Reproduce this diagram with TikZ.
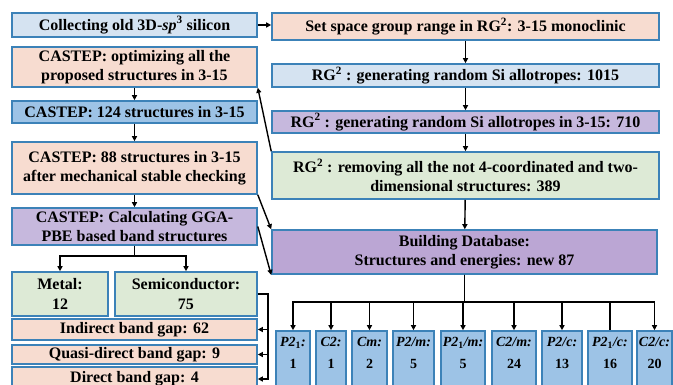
\documentclass[tikz,border=0pt]{standalone}
\usepackage{fontspec}
\setmainfont{Liberation Serif}
\usetikzlibrary{arrows.meta}
\definecolor{bord}{HTML}{3C82B8}
\definecolor{lblue}{HTML}{D5E3F1}
\definecolor{peach}{HTML}{F7DCD0}
\definecolor{mblue}{HTML}{9DC3E6}
\definecolor{purpA}{HTML}{C6B8DD}
\definecolor{purpB}{HTML}{BBA6D4}
\definecolor{lgreen}{HTML}{DDEAD6}
\begin{document}
\begin{tikzpicture}[x=1pt,y=-1pt,
  box/.style={draw=bord, line width=1.6pt, inner sep=0pt, align=center,
    font=\fontsize{16}{19.5}\selectfont\bfseries},
  sbox/.style={draw=bord, line width=1.6pt, fill=mblue, minimum height=56pt, inner sep=0pt},
  stext/.style={anchor=north, inner sep=0pt, yshift=-6.5pt, align=center,
    font=\fontsize{14}{22.5}\selectfont\bfseries},
  arr/.style={-{Triangle[length=5pt,width=5pt]}, line width=1.4pt, black},
  ln/.style={line width=1.4pt, black}]
\path[use as bounding box] (0,0) rectangle (673,384);
\clip (0,0) rectangle (673,384);
% left column
\node[box, fill=lblue, minimum width=245pt, minimum height=24pt] (c1) at (134.5,25)
  {Collecting old 3D-\textit{sp}\textsuperscript{3} silicon};
\node[box, fill=peach, minimum width=245pt, minimum height=40pt] (c2) at (134.5,67)
  {CASTEP: optimizing all the\\proposed structures in 3-15};
\node[box, fill=mblue, minimum width=245pt, minimum height=22pt] (c3) at (134.5,112)
  {CASTEP: 124 structures in 3-15};
\node[box, fill=peach, minimum width=245pt, minimum height=52pt] (c4) at (134.5,168)
  {CASTEP: 88 structures in 3-15\\after mechanical stable checking};
\node[box, fill=purpA, minimum width=245pt, minimum height=37pt] (c5) at (134.5,226.5)
  {CASTEP: Calculating GGA-\\PBE based band structures};
\node[box, fill=lgreen, minimum width=96pt, minimum height=44pt] (metal) at (60,294)
  {Metal:\\12};
\node[box, fill=lgreen, minimum width=142pt, minimum height=44pt] (semi) at (186,294)
  {Semiconductor:\\75};
\node[box, fill=peach, minimum width=245pt, minimum height=21pt] (ind) at (134.5,329.5)
  {Indirect band gap: 62};
\node[box, fill=peach, minimum width=245pt, minimum height=19pt] (quasi) at (134.5,354.5)
  {Quasi-direct band gap: 9};
\node[box, fill=peach, minimum width=245pt, minimum height=24pt] (dir) at (134.5,379)
  {Direct band gap: 4};
% right column
\node[box, fill=peach, minimum width=387pt, minimum height=27pt] (set) at (465.5,26.5)
  {Set space group range in RG\textsuperscript{2}: 3-15 monoclinic};
\node[box, fill=lblue, minimum width=387pt, minimum height=23pt] (r1) at (465.5,75.5)
  {RG\textsuperscript{2} : generating random Si allotropes: 1015};
\node[box, fill=purpA, minimum width=387pt, minimum height=22pt] (r2) at (465.5,122)
  {RG\textsuperscript{2} : generating random Si allotropes in 3-15: 710};
\node[box, fill=lgreen, minimum width=387pt, minimum height=47pt] (rem) at (465.5,175.5)
  {RG\textsuperscript{2} : removing all the not 4-coordinated and two-\\dimensional structures: 389};
\node[box, fill=purpB, minimum width=385pt, minimum height=44pt] (build) at (464.5,252)
  {Building Database:\\Structures and energies: new 87};
% space group boxes
\node[sbox, minimum width=34pt] (s1) at (293,359) {};
\node[sbox, minimum width=30pt] (s2) at (331,359) {};
\node[sbox, minimum width=35pt] (s3) at (369.5,359) {};
\node[sbox, minimum width=41pt] (s4) at (413.5,359) {};
\node[sbox, minimum width=44pt] (s5) at (463,359) {};
\node[sbox, minimum width=44pt] (s6) at (514,359) {};
\node[sbox, minimum width=40pt] (s7) at (562,359) {};
\node[sbox, minimum width=44pt] (s8) at (610,359) {};
\node[sbox, minimum width=35pt] (s9) at (654.5,359) {};
\node[stext] (t1) at (s1.north) {\textit{P2}\textsubscript{1}\textit{:}\\1};
\node[stext] (t2) at (s2.north) {\textit{C2:}\\1};
\node[stext] (t3) at (s3.north) {\textit{Cm:}\\2};
\node[stext] (t4) at (s4.north) {\textit{P2/m:}\\5};
\node[stext] (t5) at (s5.north) {\textit{P2}\textsubscript{1}\textit{/m:}\\5};
\node[stext] (t6) at (s6.north) {\textit{C2/m:}\\24};
\node[stext] (t7) at (s7.north) {\textit{P2/c:}\\13};
\node[stext] (t8) at (s8.north) {\textit{P2}\textsubscript{1}\textit{/c:}\\16};
\node[stext] (t9) at (s9.north) {\textit{C2/c:}\\20};
% connectors left
\draw[arr] (c1.east) -- (c1.east -| set.west);
\draw[arr] (c2) -- (c3);
\draw[arr] (c3) -- (c4);
\draw[arr] (c4) -- (c5);
\coordinate (lsplit) at (134.5,256);
\draw[arr] (c5.south) -- (lsplit) -| (metal.north);
\draw[arr] (c5.south) -- (lsplit) -| (semi.north);
\coordinate (sbus) at (268,294);
\draw[arr] (semi.east) -- (sbus) |- (ind.east);
\draw[arr] (semi.east) -- (sbus) |- (quasi.east);
\draw[arr] (semi.east) -- (sbus) |- (dir.east);
% connectors right
\draw[arr] (set) -- (r1);
\draw[arr] (r1) -- (r2);
\draw[arr] (r2) -- (rem);
\draw[arr] (rem) -- (build);
% diagonals
\draw[arr] (rem.north west) -- (c2.south east);
\draw[arr] (c4.south east) -- (build.north west);
\draw[arr] (c5.east) -- (build.south west);
% bus to space groups
\coordinate (bus) at (464.5,302);
\foreach \s in {s1,s2,s3,s4,s5,s6,s7,s9}{
  \draw[arr] (build.south) -- (bus) -| (\s.north);
}
\draw[ln] (build.south) -- (bus) -| (s8.north);
\end{tikzpicture}
\end{document}
